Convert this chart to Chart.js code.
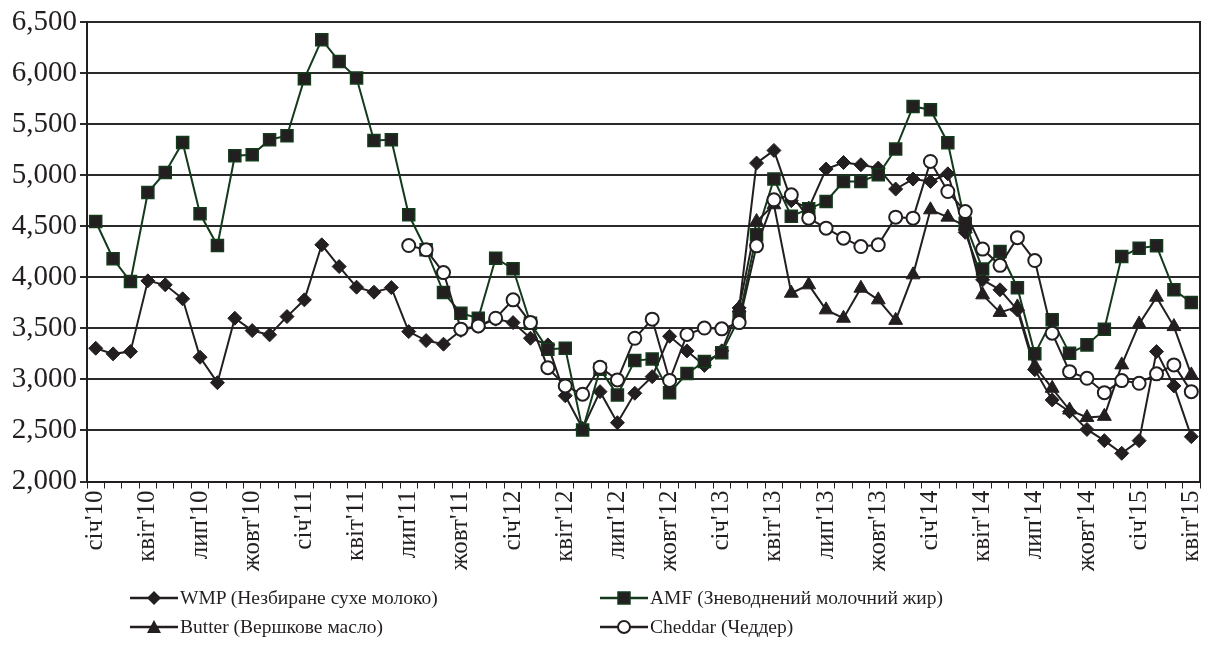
<!DOCTYPE html>
<html><head><meta charset="utf-8">
<script src="https://cdn.jsdelivr.net/npm/chart.js@4/dist/chart.umd.min.js"></script>
<style>
html,body{margin:0;padding:0;background:#fff;}
#wrap{position:relative;width:1205px;height:666px;overflow:hidden;}
#c{position:absolute;left:0;top:0;}
.lg{position:absolute;font-family:"Liberation Serif","Times New Roman",serif;font-size:19.5px;color:#231f20;white-space:nowrap;display:flex;align-items:center;height:24px;}
.lg svg{margin-right:2px;}
</style></head>
<body>
<div id="wrap">
<canvas id="c" width="1210" height="666"></canvas>
<div class="lg" style="left:130px;top:586px"><svg width="48" height="20"><line x1="0" y1="10" x2="48" y2="10" stroke="#231f20" stroke-width="2.5"/><polygon points="24,3 31,10 24,17 17,10" fill="#231f20"/></svg>WMP (Незбиране сухе молоко)</div>
<div class="lg" style="left:600px;top:586px"><svg width="48" height="20"><line x1="0" y1="10" x2="48" y2="10" stroke="#143a1c" stroke-width="2.5"/><rect x="18" y="4" width="12" height="12" fill="#231f20" stroke="#143a1c" stroke-width="1.5"/></svg>AMF (Зневоднений молочний жир)</div>
<div class="lg" style="left:130px;top:615px"><svg width="48" height="20"><line x1="0" y1="10" x2="48" y2="10" stroke="#231f20" stroke-width="2.5"/><polygon points="24,3 31,16 17,16" fill="#231f20"/></svg>Butter (Вершкове масло)</div>
<div class="lg" style="left:600px;top:615px"><svg width="48" height="20"><line x1="0" y1="10" x2="48" y2="10" stroke="#231f20" stroke-width="2.5"/><circle cx="24" cy="10" r="6" fill="#fff" stroke="#231f20" stroke-width="2"/></svg>Cheddar (Чеддер)</div>
</div>
<script>
const monthNames = ["січ","лют","бер","квіт","трав","черв","лип","серп","вер","жовт","лист","груд"];
const years = ["10","11","12","13","14","15"];
const categories = [];
years.forEach(y => monthNames.forEach(m => categories.push(m + "'" + y)));
categories.length = 64; // січ'10 .. квіт'15

const wmp = [3305,3250,3272,3965,3926,3789,3217,2968,3599,3478,3436,3615,
  3779,4318,4105,3903,3854,3899,3468,3380,3345,3480,3520,3590,
  3556,3403,3338,2840,2520,2880,2576,2864,3027,3422,3279,3137,
  3280,3700,5118,5242,4750,4677,5060,5124,5102,5069,4864,4962,
  4938,5013,4440,3975,3877,3680,3095,2799,2684,2510,2400,2276,
  2400,3272,2936,2439];
const amf = [4546,4181,3958,4830,5026,5320,4622,4311,5190,5200,5347,5386,
  5945,6327,6114,5951,5340,5346,4612,4270,3850,3648,3599,4187,
  4083,3550,3296,3305,2505,3100,2848,3184,3200,2870,3057,3175,
  3260,3600,4416,4962,4598,4670,4742,4938,4938,5004,5256,5673,
  5641,5318,4530,4080,4252,3898,3250,3583,3256,3338,3491,4203,
  4285,4308,3877,3753];
const butter = [null,null,null,null,null,null,null,null,null,null,null,null,
  null,null,null,null,null,null,null,null,null,null,null,null,
  null,null,null,null,null,null,null,null,null,null,null,null,
  null,3700,4546,4710,3844,3926,3681,3599,3893,3779,3578,4024,
  4661,4589,4500,3828,3656,3710,3132,2913,2700,2627,2638,3142,
  3543,3805,3517,3044];
const cheddar = [null,null,null,null,null,null,null,null,null,null,null,null,
  null,null,null,null,null,null,4311,4269,4046,3492,3524,3599,
  3779,3556,3115,2936,2855,3119,2995,3403,3590,2990,3440,3503,
  3495,3556,4308,4759,4808,4579,4481,4383,4301,4318,4589,4579,
  5134,4840,4644,4276,4117,4388,4164,3452,3076,3011,2870,2988,
  2962,3054,3142,2880];
const yTicks = [2000,2500,3000,3500,4000,4500,5000,5500,6000,6500];

const ink = '#231f20';
const green = '#143a1c';
const serif = '"Liberation Serif","Times New Roman",serif';

const borderPlugin = {
  id: 'rightBorder',
  afterDraw(chart) {
    const a = chart.chartArea, ctx = chart.ctx;
    ctx.save();
    ctx.strokeStyle = ink; ctx.lineWidth = 2;
    ctx.beginPath(); ctx.moveTo(a.right, a.top - 1); ctx.lineTo(a.right, a.bottom + 1); ctx.stroke();
    ctx.restore();
  }
};

new Chart(document.getElementById('c'), {
  type: 'line',
  data: {
    labels: categories,
    datasets: [
      {label:'WMP (Незбиране сухе молоко)', data: wmp, borderColor: ink, backgroundColor: ink,
        pointStyle:'rectRot', pointRadius:7, pointBorderWidth:1, pointBackgroundColor: ink, pointBorderColor: ink, borderWidth:2, order:3},
      {label:'AMF (Зневоднений молочний жир)', data: amf, borderColor: green, backgroundColor: ink,
        pointStyle:'rect', pointRadius:8.5, pointBorderWidth:1.5, pointBackgroundColor: ink, pointBorderColor: green, borderWidth:2, order:2},
      {label:'Butter (Вершкове масло)', data: butter, borderColor: ink, backgroundColor: ink,
        pointStyle:'triangle', pointRadius:8, pointBorderWidth:1, pointBackgroundColor: ink, pointBorderColor: ink, borderWidth:2, order:1},
      {label:'Cheddar (Чеддер)', data: cheddar, borderColor: ink, backgroundColor: '#fff',
        pointStyle:'circle', pointRadius:6.5, pointBorderWidth:2, pointBackgroundColor: '#fff', pointBorderColor: ink, borderWidth:2, order:0}
    ]
  },
  options: {
    responsive: false,
    animation: false,
    events: [],
    layout: {padding: {top: 22, right: 0, left: 0, bottom: 0}},
    plugins: {legend: {display: false}, tooltip: {enabled: false}},
    elements: {line: {tension: 0}},
    scales: {
      x: {
        type: 'category',
        offset: true,
        grid: {display: true, drawOnChartArea: false, drawTicks: true, tickLength: 7, offset: true, color: ink, lineWidth: 1},
        border: {display: true, color: ink, width: 2},
        ticks: {
          autoSkip: false, maxRotation: 90, minRotation: 90, padding: 2,
          color: ink, font: {family: serif, size: 25},
          callback: (v, i) => (i % 3 === 0 ? categories[i] : '')
        },
        afterFit: (s) => { s.height = 666 - 481.5; s.paddingLeft = 0; s.paddingRight = 0; }
      },
      y: {
        min: 2000, max: 6500,
        afterBuildTicks: (s) => { s.ticks = yTicks.map(v => ({value: v})); },
        grid: {color: '#2a2a2a', lineWidth: 2, drawTicks: true, tickLength: 7},
        border: {display: true, color: ink, width: 2},
        ticks: {
          padding: 3, color: ink, font: {family: serif, size: 29},
          callback: (v) => v.toLocaleString('en-US')
        },
        afterFit: (s) => { s.width = 87; s.paddingTop = 0; s.paddingBottom = 0; }
      }
    }
  },
  plugins: [borderPlugin]
});
</script>
</body></html>
